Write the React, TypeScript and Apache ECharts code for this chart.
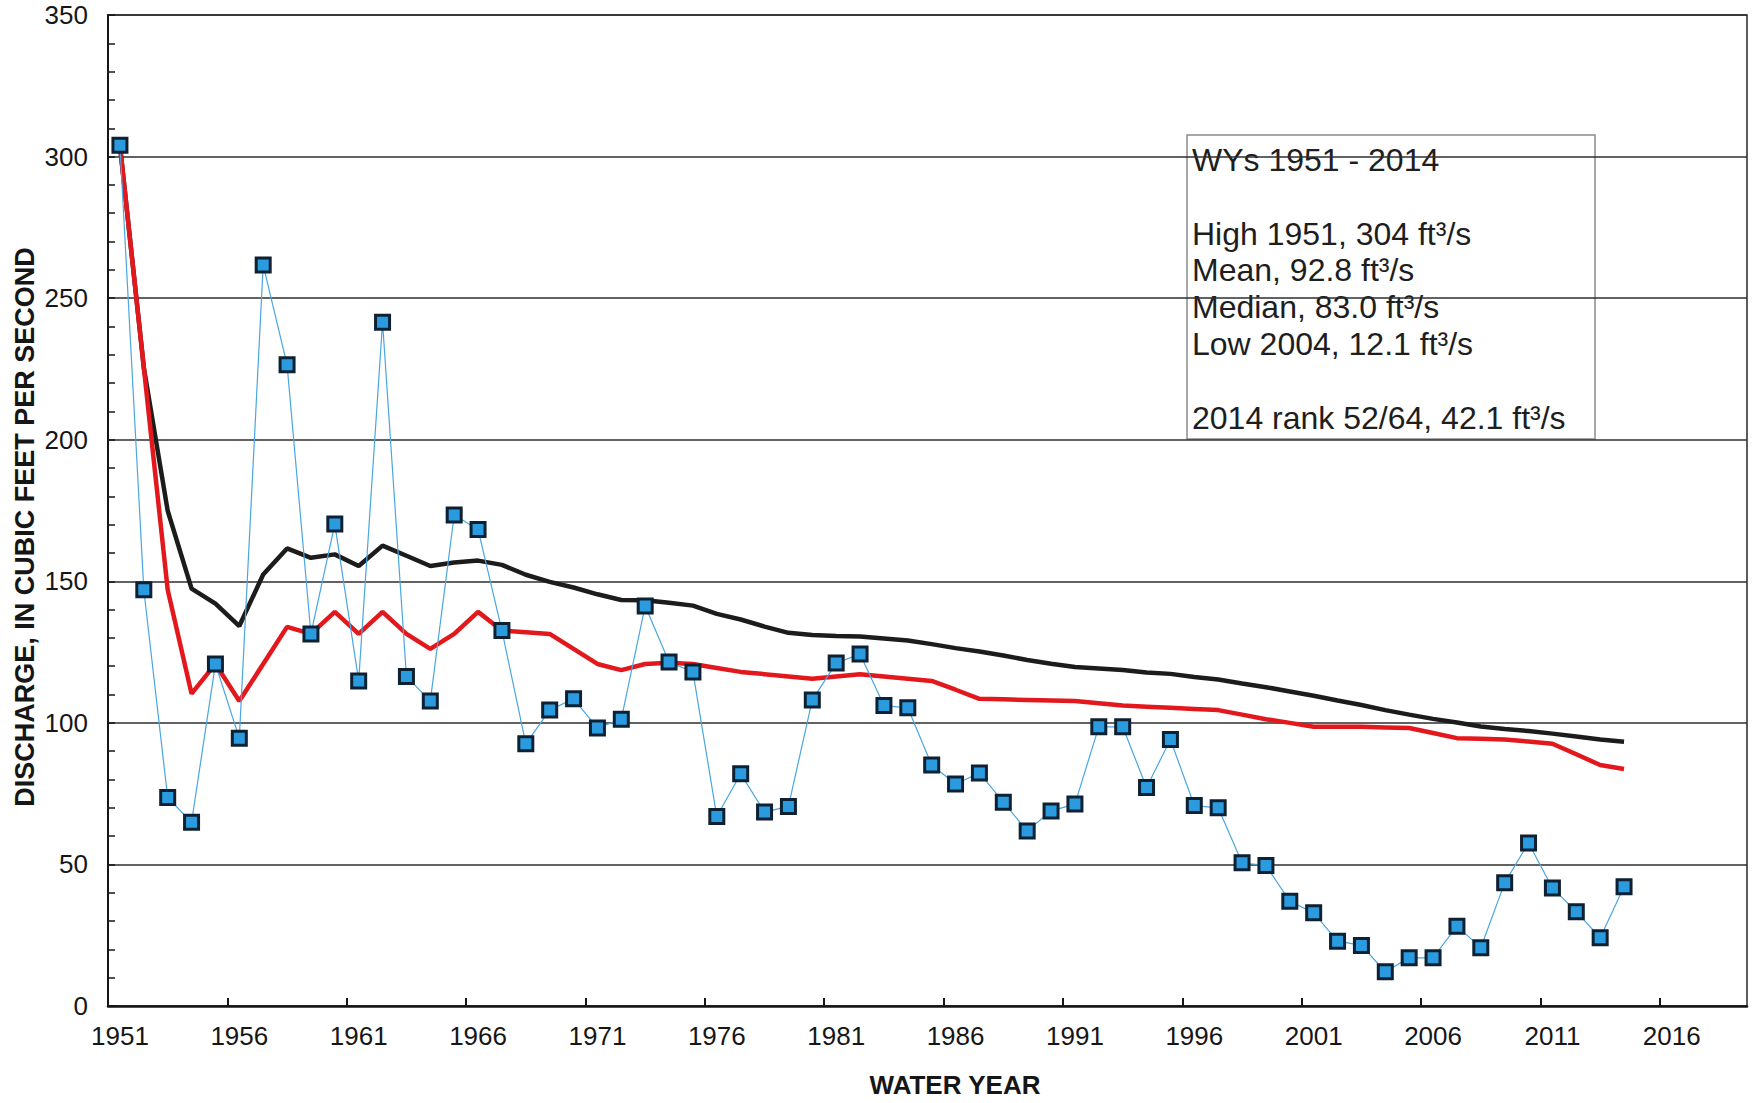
import React, { useEffect, useRef } from "react";
import * as echarts from "echarts";

const FONT = "'Liberation Sans', Arial, Helvetica, sans-serif";

const years = [
  1951, 1952, 1953, 1954, 1955, 1956, 1957, 1958, 1959, 1960,
  1961, 1962, 1963, 1964, 1965, 1966, 1967, 1968, 1969, 1970,
  1971, 1972, 1973, 1974, 1975, 1976, 1977, 1978, 1979, 1980,
  1981, 1982, 1983, 1984, 1985, 1986, 1987, 1988, 1989, 1990,
  1991, 1992, 1993, 1994, 1995, 1996, 1997, 1998, 1999, 2000,
  2001, 2002, 2003, 2004, 2005, 2006, 2007, 2008, 2009, 2010,
  2011, 2012, 2013, 2014,
];

// Annual mean discharge (blue squares)
const annualDischarge = [
  304, 147, 73.6, 64.9, 120.8, 94.6, 261.7, 226.5, 131.4, 170.2,
  114.8, 241.5, 116.4, 107.7, 173.4, 168.3, 132.6, 92.6, 104.5, 108.5,
  98.2, 101.3, 141.3, 121.5, 118, 66.9, 82, 68.5, 70.5, 108.1,
  121.1, 124.3, 106.1, 105.3, 85.1, 78.4, 82.3, 72, 61.8, 68.9,
  71.3, 98.6, 98.6, 77.2, 94.1, 70.8, 70, 50.6, 49.6, 37,
  32.9, 22.9, 21.4, 12.1, 17, 17, 28.2, 20.6, 43.5, 57.6,
  41.7, 33.3, 24.1, 42.1,
];

// Black line (running mean)
const runningMean = [
  304, 225.5, 174.9, 147.4, 142.1, 134.2, 152.4, 161.6, 158.3, 159.5,
  155.4, 162.6, 159.0, 155.4, 156.6, 157.3, 155.8, 152.3, 149.8, 147.8,
  145.4, 143.4, 143.3, 142.4, 141.4, 138.5, 136.5, 134.0, 131.8, 131.0,
  130.7, 130.5, 129.8, 129.1, 127.8, 126.4, 125.2, 123.8, 122.2, 120.9,
  119.7, 119.2, 118.7, 117.8, 117.3, 116.2, 115.3, 113.9, 112.6, 111.1,
  109.6, 107.9, 106.3, 104.5, 102.9, 101.4, 100.1, 98.7, 97.8, 97.1,
  96.2, 95.2, 94.1, 93.3,
];

// Red line (running median)
const runningMedian = [
  304, 225.5, 147, 110.3, 120.8, 107.7, 120.8, 133.9, 131.4, 139.2,
  131.4, 139.2, 131.4, 126.1, 131.4, 139.2, 132.6, 132.0, 131.4, 126.1,
  120.8, 118.6, 120.8, 121.2, 120.8, 119.4, 118, 117.2, 116.4, 115.6,
  116.4, 117.2, 116.4, 115.6, 114.8, 111.7, 108.5, 108.3, 108.1, 107.9,
  107.7, 106.9, 106.1, 105.7, 105.3, 104.9, 104.5, 102.9, 101.3, 100.0,
  98.6, 98.6, 98.6, 98.4, 98.2, 96.4, 94.6, 94.4, 94.1, 93.4,
  92.6, 88.9, 85.1, 83.7,
];

const xLabelYears = [1951, 1956, 1961, 1966, 1971, 1976, 1981, 1986, 1991, 1996, 2001, 2006, 2011, 2016];
const xTickPositions = [1955.5, 1960.5, 1965.5, 1970.5, 1975.5, 1980.5, 1985.5, 1990.5, 1995.5, 2000.5, 2005.5, 2010.5, 2015.5];

const statsLines = [
  "WYs 1951 - 2014",
  "",
  "High 1951, 304 ft³/s",
  "Mean, 92.8 ft³/s",
  "Median, 83.0 ft³/s",
  "Low 2004, 12.1 ft³/s",
  "",
  "2014 rank 52/64, 42.1 ft³/s",
];

const pairs = (vals: number[]) => years.map((y, i) => [y, vals[i]]);

export default function App() {
  const ref = useRef<HTMLDivElement>(null);

  useEffect(() => {
    if (!ref.current) return;
    const chart = echarts.init(ref.current, null, { renderer: "svg" });
    const ink = "#161616";
    chart.setOption({
      animation: false,
      backgroundColor: "#ffffff",
      textStyle: { fontFamily: FONT },
      grid: {
        left: 108,
        right: 7,
        top: 15,
        bottom: 97,
        show: true,
        borderColor: "#2a2a2a",
        borderWidth: 1.5,
        backgroundColor: "transparent",
      },
      xAxis: {
        type: "value",
        min: 1950.5,
        max: 2019.15,
        axisLine: { show: true, onZero: false, lineStyle: { color: ink, width: 2.5 } },
        axisTick: {
          show: true,
          inside: true,
          length: 8,
          customValues: xTickPositions,
          lineStyle: { color: ink, width: 2 },
        },
        axisLabel: {
          customValues: xLabelYears,
          fontSize: 26,
          color: ink,
          margin: 17,
          fontFamily: FONT,
          formatter: (v: number) => String(v),
        },
        splitLine: { show: false },
      },
      yAxis: {
        type: "value",
        min: 0,
        max: 350,
        interval: 50,
        axisLine: { show: true, lineStyle: { color: ink, width: 2 } },
        axisTick: { show: true, inside: true, length: 7, lineStyle: { color: ink, width: 1.5 } },
        minorTick: { show: true, splitNumber: 5, length: 7, lineStyle: { color: ink, width: 1.5 } },
        axisLabel: { fontSize: 26, color: ink, margin: 20, fontFamily: FONT },
        splitLine: { show: true, lineStyle: { color: "#2e2e2e", width: 1.6 } },
      },
      series: [
        {
          name: "Running mean",
          type: "line",
          data: pairs(runningMean),
          symbol: "none",
          lineStyle: { color: "#1c1c1c", width: 4.5 },
          z: 3,
        },
        {
          name: "Running median",
          type: "line",
          data: pairs(runningMedian),
          symbol: "none",
          lineStyle: { color: "#e3181c", width: 4.5 },
          z: 4,
        },
        {
          name: "Annual mean discharge",
          type: "line",
          data: pairs(annualDischarge),
          symbol: "rect",
          symbolSize: 14,
          lineStyle: { color: "#4aa6e0", width: 1.2 },
          itemStyle: { color: "#2b9be0", borderColor: "#0e2132", borderWidth: 3 },
          z: 5,
        },
      ],
      graphic: [
        {
          type: "text",
          x: 25,
          y: 527,
          rotation: Math.PI / 2,
          style: {
            text: "DISCHARGE, IN CUBIC FEET PER SECOND",
            fontSize: 27,
            fontWeight: "bold",
            fontFamily: FONT,
            fill: ink,
            align: "center",
            verticalAlign: "middle",
          },
        },
        {
          type: "text",
          x: 955,
          y: 1085,
          style: {
            text: "WATER YEAR",
            fontSize: 26,
            fontWeight: "bold",
            fontFamily: FONT,
            fill: ink,
            align: "center",
            verticalAlign: "middle",
          },
        },
        {
          type: "group",
          z: 100,
          children: [
            {
              type: "rect",
              shape: { x: 1187, y: 135, width: 408, height: 304 },
              style: { fill: "#ffffff", stroke: "#8c8c8c", lineWidth: 1.5 },
            },
            {
              type: "text",
              x: 1192,
              y: 141.5,
              style: {
                text: statsLines.join("\n"),
                fontSize: 32,
                lineHeight: 36.8,
                fontFamily: FONT,
                fill: "#1e1e1e",
                align: "left",
                verticalAlign: "top",
              },
            },
          ],
        },
      ],
    });
    return () => chart.dispose();
  }, []);

  return (
    <div
      ref={ref}
      style={{ position: "absolute", left: 0, top: 0, width: 1754, height: 1103, background: "#ffffff" }}
    />
  );
}
